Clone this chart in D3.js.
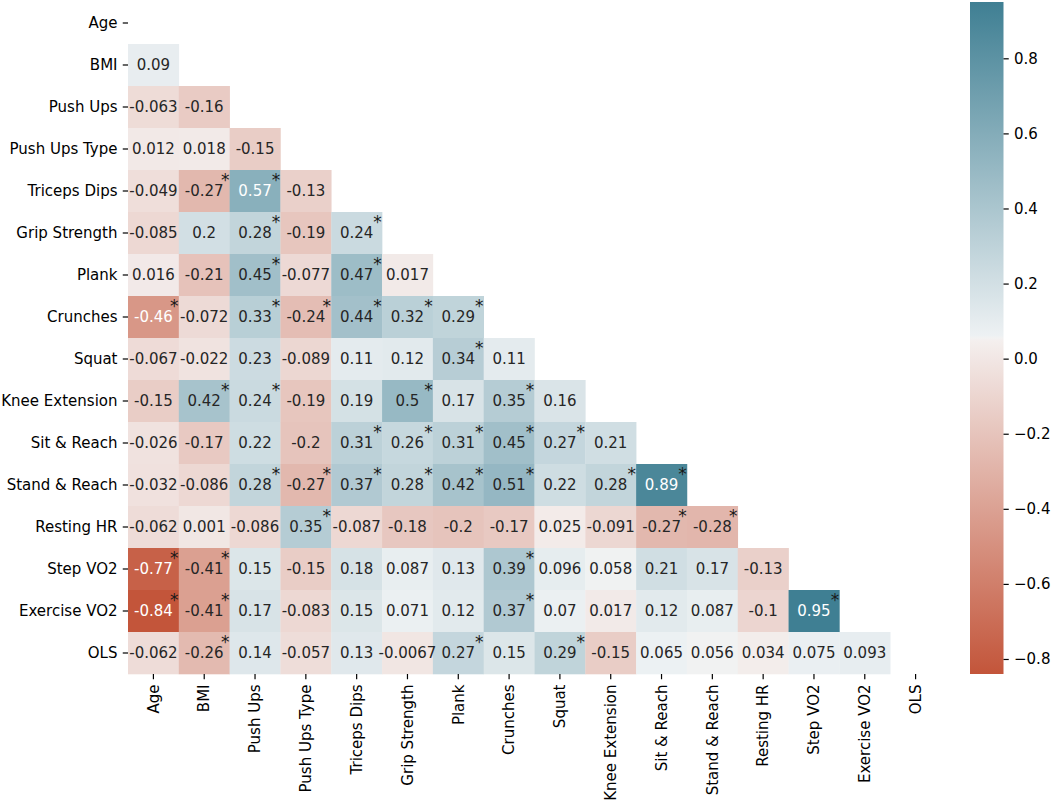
<!DOCTYPE html>
<html>
<head>
<meta charset="utf-8">
<script src="https://cdn.jsdelivr.net/npm/d3@7"></script>
<style>
body { margin: 0; background: #fff; }
text { font-family: "DejaVu Sans", sans-serif; }
</style>
</head>
<body>
<div id="chart"></div>
<script>
// variables (rows and columns of the matrix)
var labels = ["Age", "BMI", "Push Ups", "Push Ups Type", "Triceps Dips", "Grip Strength",
    "Plank", "Crunches", "Squat", "Knee Extension", "Sit & Reach", "Stand & Reach",
    "Resting HR", "Step VO2", "Exercise VO2", "OLS"];

// lower triangle only: row i holds correlations with columns 0..i-1
var corr = [
    [],
    [0.09],
    [-0.063, -0.16],
    [0.012, 0.018, -0.15],
    [-0.049, -0.27, 0.57, -0.13],
    [-0.085, 0.2, 0.28, -0.19, 0.24],
    [0.016, -0.21, 0.45, -0.077, 0.47, 0.017],
    [-0.46, -0.072, 0.33, -0.24, 0.44, 0.32, 0.29],
    [-0.067, -0.022, 0.23, -0.089, 0.11, 0.12, 0.34, 0.11],
    [-0.15, 0.42, 0.24, -0.19, 0.19, 0.5, 0.17, 0.35, 0.16],
    [-0.026, -0.17, 0.22, -0.2, 0.31, 0.26, 0.31, 0.45, 0.27, 0.21],
    [-0.032, -0.086, 0.28, -0.27, 0.37, 0.28, 0.42, 0.51, 0.22, 0.28, 0.89],
    [-0.062, 0.001, -0.086, 0.35, -0.087, -0.18, -0.2, -0.17, 0.025, -0.091, -0.27, -0.28],
    [-0.77, -0.41, 0.15, -0.15, 0.18, 0.087, 0.13, 0.39, 0.096, 0.058, 0.21, 0.17, -0.13],
    [-0.84, -0.41, 0.17, -0.083, 0.15, 0.071, 0.12, 0.37, 0.07, 0.017, 0.12, 0.087, -0.1, 0.95],
    [-0.062, -0.26, 0.14, -0.057, 0.13, -0.0067, 0.27, 0.15, 0.29, -0.15, 0.065, 0.056, 0.034, 0.075, 0.093]
];

// significance marks (1 = star), same shape as corr
var sig = [
    [],
    [0],
    [0, 0],
    [0, 0, 0],
    [0, 1, 1, 0],
    [0, 0, 1, 0, 1],
    [0, 0, 1, 0, 1, 0],
    [1, 0, 1, 1, 1, 1, 1],
    [0, 0, 0, 0, 0, 0, 1, 0],
    [0, 1, 1, 0, 0, 1, 0, 1, 0],
    [0, 0, 0, 0, 1, 1, 1, 1, 1, 0],
    [0, 0, 1, 1, 1, 1, 1, 1, 0, 1, 1],
    [0, 0, 0, 1, 0, 0, 0, 0, 0, 0, 1, 1],
    [1, 1, 0, 0, 0, 0, 0, 1, 0, 0, 0, 0, 0],
    [1, 1, 0, 0, 0, 0, 0, 1, 0, 0, 0, 0, 0, 1],
    [0, 1, 0, 0, 0, 0, 1, 0, 1, 0, 0, 0, 0, 0, 0]
];

var cbTicks = [-0.8, -0.6, -0.4, -0.2, 0.0, 0.2, 0.4, 0.6, 0.8];

var W = 1052, H = 804;
var fs = 15;

var svg = d3.select("#chart").append("svg")
    .attr("width", W)
    .attr("height", H);

svg.append("rect").attr("width", W).attr("height", H).attr("fill", "#fff");

var x = d3.scaleBand().domain(labels).range([128, 941]).padding(0);
var y = d3.scaleBand().domain(labels).range([2, 674]).padding(0);

var flat = d3.merge(corr);
var vmin = d3.min(flat), vmax = d3.max(flat);

// seaborn diverging_palette(20, 220) style colormap
var palette = ["#c3553a", "#f4efee", "#f2f2f2", "#edf1f3", "#3f7f93"];
var palPos = [0, 127 / 256, 128 / 256, 129 / 256, 1];
var color = d3.scaleLinear()
    .domain(palPos.map(function(p) { return vmin + p * (vmax - vmin); }))
    .range(palette)
    .interpolate(d3.interpolateRgb)
    .clamp(true);

function lum(c) {
    var rgb = d3.rgb(c);
    var ch = [rgb.r, rgb.g, rgb.b].map(function(v) {
        v = v / 255;
        return v <= 0.03928 ? v / 12.92 : Math.pow((v + 0.055) / 1.055, 2.4);
    });
    return 0.2126 * ch[0] + 0.7152 * ch[1] + 0.0722 * ch[2];
}

var cells = [];
corr.forEach(function(row, i) {
    row.forEach(function(v, j) {
        cells.push({ r: labels[i], c: labels[j], v: v, s: sig[i][j] });
    });
});

var g = svg.append("g");

g.selectAll("rect.cell")
    .data(cells)
    .enter().append("rect")
    .attr("class", "cell")
    .attr("x", function(d) { return x(d.c); })
    .attr("y", function(d) { return y(d.r); })
    .attr("width", x.bandwidth() + 0.3)
    .attr("height", y.bandwidth() + 0.3)
    .attr("fill", function(d) { return color(d.v); });

g.selectAll("text.val")
    .data(cells)
    .enter().append("text")
    .attr("class", "val")
    .attr("x", function(d) { return x(d.c) + x.bandwidth() / 2; })
    .attr("y", function(d) { return y(d.r) + y.bandwidth() / 2; })
    .attr("dy", "0.36em")
    .attr("text-anchor", "middle")
    .style("font-size", fs + "px")
    .attr("fill", function(d) { return lum(color(d.v)) > 0.408 ? "#262626" : "#ffffff"; })
    .text(function(d) { return String(d.v); });

g.selectAll("text.star")
    .data(cells.filter(function(d) { return d.s; }))
    .enter().append("text")
    .attr("class", "star")
    .attr("x", function(d) { return x(d.c) + x.bandwidth() - 4.5; })
    .attr("y", function(d) { return y(d.r) + 16; })
    .attr("text-anchor", "middle")
    .style("font-size", "17px")
    .attr("fill", "#1a1a1a")
    .text("*");

// axes
var tick = 5.25;
var yAxis = svg.append("g")
    .attr("transform", "translate(128,0)")
    .call(d3.axisLeft(y).tickSize(tick).tickPadding(tick));
yAxis.select(".domain").remove();

var xAxis = svg.append("g")
    .attr("transform", "translate(0,674)")
    .call(d3.axisBottom(x).tickSize(tick).tickPadding(tick));
xAxis.select(".domain").remove();
xAxis.selectAll("text")
    .attr("transform", "rotate(-90)")
    .attr("x", -(tick * 2))
    .attr("y", 0)
    .attr("dy", "0.35em")
    .style("text-anchor", "end");

svg.selectAll(".tick text")
    .style("font-size", fs + "px")
    .style("font-family", "'DejaVu Sans', sans-serif")
    .attr("fill", "#000");
svg.selectAll(".tick line")
    .attr("stroke", "#000")
    .attr("stroke-width", 1.2);

// colorbar
var cbX = 970, cbW = 33.5;
var cbY = d3.scaleLinear().domain([vmin, vmax]).range([674, 2]);

var grad = svg.append("defs").append("linearGradient")
    .attr("id", "cbgrad")
    .attr("x1", 0).attr("y1", 1).attr("x2", 0).attr("y2", 0);
grad.selectAll("stop")
    .data(palPos)
    .enter().append("stop")
    .attr("offset", function(p) { return (p * 100) + "%"; })
    .attr("stop-color", function(p, i) { return palette[i]; });

svg.append("rect")
    .attr("x", cbX)
    .attr("y", cbY(vmax))
    .attr("width", cbW)
    .attr("height", cbY(vmin) - cbY(vmax))
    .attr("fill", "url(#cbgrad)");

var cbAxis = svg.append("g")
    .attr("transform", "translate(" + (cbX + cbW) + ",0)")
    .call(d3.axisRight(cbY).tickValues(cbTicks).tickFormat(d3.format(".1f"))
        .tickSize(tick).tickPadding(tick));
cbAxis.select(".domain").remove();
cbAxis.selectAll("text")
    .style("font-size", fs + "px")
    .style("font-family", "'DejaVu Sans', sans-serif")
    .attr("fill", "#000");
cbAxis.selectAll("line")
    .attr("stroke", "#000")
    .attr("stroke-width", 1.2);
</script>
</body>
</html>
